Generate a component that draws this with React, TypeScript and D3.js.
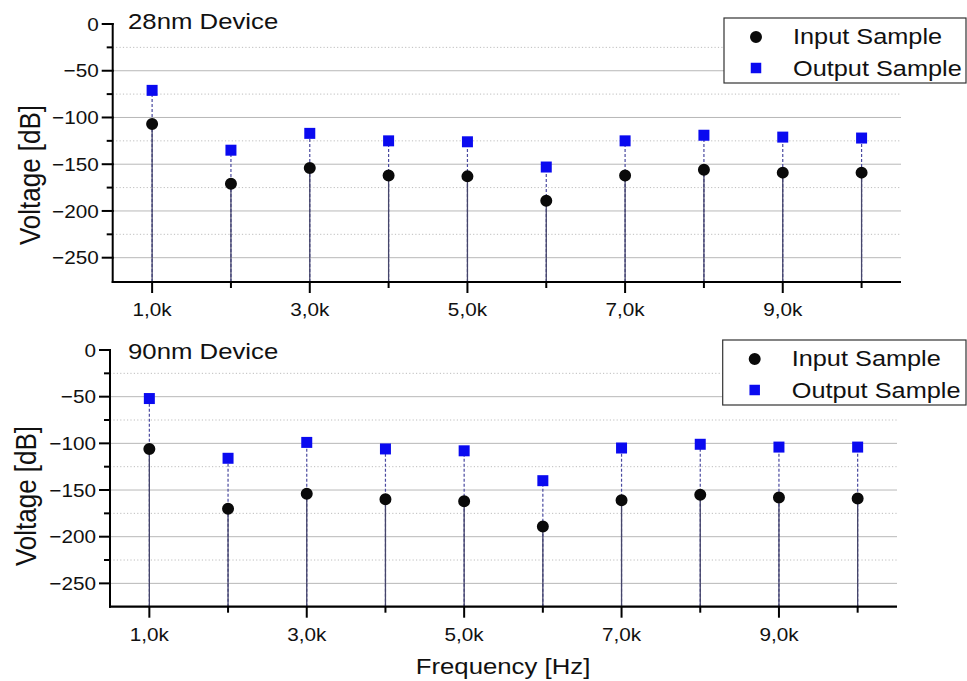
import React from "react";
import * as d3 from "d3";

// Frequencies of the harmonic samples, in kHz
const freqKHz = [1, 2, 3, 4, 5, 6, 7, 8, 9, 10];
const xTickLabels = ["1,0k", "", "3,0k", "", "5,0k", "", "7,0k", "", "9,0k", ""];

// 28nm device: voltage per harmonic [dB]
const input28 = [-107, -171, -154, -162, -163, -189, -162, -156, -159, -159];
const output28 = [-71, -135, -117, -125, -126, -153, -125, -119, -121, -122];

// 90nm device: voltage per harmonic [dB]
const input90 = [-106, -170, -154, -160, -162, -189, -161, -155, -158, -159];
const output90 = [-52, -116, -99, -106, -108, -140, -105, -101, -104, -104];

const majorY = [0, -50, -100, -150, -200, -250];
const minorY = [-25, -75, -125, -175, -225];

const titles = ["28nm Device", "90nm Device"];
const legendLabels = ["Input Sample", "Output Sample"];
const yTitle = "Voltage [dB]";
const xTitle = "Frequency [Hz]";

const W = 967;
const H = 681;
const FONT = "'Liberation Sans', Arial, Helvetica, sans-serif";
const SX = 1.12;
const BLUE = "#0a0af0";

type Layout = {
  left: number;
  right: number;
  top: number;
  bottom: number;
  yMin: number;
  titleX: number;
  titleY: number;
  yLabelX: number;
  yLabelY: number;
  legendLeft: number;
  legendTop: number;
};

const layouts: Layout[] = [
  { left: 112.7, right: 901, top: 24, bottom: 282, yMin: -276, titleX: 128, titleY: 28.5, yLabelX: 39.5, yLabelY: 175, legendLeft: 724, legendTop: 18 },
  { left: 110, right: 897, top: 350, bottom: 606.7, yMin: -275, titleX: 128, titleY: 358.5, yLabelX: 35.5, yLabelY: 496, legendLeft: 722.7, legendTop: 340 },
];

function Txt({ x, y, size, anchor = "start", children, sx = SX }: any) {
  return (
    <text
      transform={`translate(${x},${y}) scale(${sx},1)`}
      fontSize={size}
      fontFamily={FONT}
      textAnchor={anchor}
      fill="#111"
    >
      {children}
    </text>
  );
}

function Panel({ lay, title, input, output }: { lay: Layout; title: string; input: number[]; output: number[] }) {
  const x = d3.scaleLinear().domain([0.5, 10.5]).range([lay.left, lay.right]);
  const y = d3.scaleLinear().domain([lay.yMin, 0]).range([lay.bottom, lay.top]);
  const fmt = d3.format("d");
  const circle = d3.symbol(d3.symbolCircle, 113)();
  const square = d3.symbol(d3.symbolSquare, 121)();
  return (
    <g>
      {/* grid */}
      {majorY.filter((v) => v !== 0).map((v) => (
        <line key={"gM" + v} x1={lay.left} x2={lay.right} y1={y(v)} y2={y(v)} stroke="#b8b8b8" strokeWidth={1} />
      ))}
      {minorY.map((v) => (
        <line key={"gm" + v} x1={lay.left} x2={lay.right} y1={y(v)} y2={y(v)} stroke="#bdbdbd" strokeWidth={1} strokeDasharray="1.2 2.2" />
      ))}

      {/* stems */}
      {freqKHz.map((f, i) => (
        <line key={"so" + f} x1={x(f)} x2={x(f)} y1={y(lay.yMin)} y2={y(output[i])} stroke="#4a4aa0" strokeWidth={1.2} strokeDasharray="3 2" />
      ))}
      {freqKHz.map((f, i) => (
        <line key={"si" + f} x1={x(f)} x2={x(f)} y1={y(lay.yMin)} y2={y(input[i])} stroke="#45456a" strokeWidth={1.3} />
      ))}

      {/* markers */}
      {freqKHz.map((f, i) => (
        <path key={"mo" + f} d={square!} transform={`translate(${x(f)},${y(output[i])})`} fill={BLUE} />
      ))}
      {freqKHz.map((f, i) => (
        <path key={"mi" + f} d={circle!} transform={`translate(${x(f)},${y(input[i])})`} fill="#0a0a0a" />
      ))}

      {/* y axis */}
      <line x1={lay.left} x2={lay.left} y1={y(0) - 1} y2={y(lay.yMin) + 1} stroke="#000" strokeWidth={2} />
      {majorY.map((v) => (
        <g key={"yt" + v}>
          <line x1={lay.left - 11} x2={lay.left + 1} y1={y(v)} y2={y(v)} stroke="#000" strokeWidth={2} />
          <Txt x={lay.left - 14} y={y(v) + 6.6} size={18.5} anchor="end">
            {fmt(v)}
          </Txt>
        </g>
      ))}
      {minorY.map((v) => (
        <line key={"ym" + v} x1={lay.left - 6} x2={lay.left} y1={y(v)} y2={y(v)} stroke="#000" strokeWidth={2} />
      ))}

      {/* x axis */}
      <line x1={lay.left - 1} x2={lay.right} y1={y(lay.yMin)} y2={y(lay.yMin)} stroke="#000" strokeWidth={2.2} />
      {freqKHz.map((f, i) => (
        <g key={"xt" + f}>
          <line x1={x(f)} x2={x(f)} y1={y(lay.yMin)} y2={y(lay.yMin) + (xTickLabels[i] ? 11 : 6)} stroke="#000" strokeWidth={2} />
          {xTickLabels[i] && (
            <Txt x={x(f)} y={y(lay.yMin) + 34} size={18.5} anchor="middle">
              {xTickLabels[i]}
            </Txt>
          )}
        </g>
      ))}

      {/* title */}
      <Txt x={lay.titleX} y={lay.titleY} size={23}>
        {title}
      </Txt>

      {/* y axis title */}
      <text
        transform={`translate(${lay.yLabelX},${lay.yLabelY}) scale(${SX},1) rotate(-90)`}
        fontSize={26}
        fontFamily={FONT}
        textAnchor="middle"
        fill="#111"
      >
        {yTitle}
      </text>

      {/* legend */}
      <rect x={lay.legendLeft} y={lay.legendTop} width={W - 1 - lay.legendLeft} height={65} fill="#fff" stroke="#333" strokeWidth={1.2} />
      <path d={circle!} transform={`translate(${lay.legendLeft + 32},${lay.legendTop + 19})`} fill="#0a0a0a" />
      <path d={d3.symbol(d3.symbolSquare, 110)()!} transform={`translate(${lay.legendLeft + 32},${lay.legendTop + 50})`} fill={BLUE} />
      <Txt x={lay.legendLeft + 69} y={lay.legendTop + 26} size={22.6}>
        {legendLabels[0]}
      </Txt>
      <Txt x={lay.legendLeft + 69} y={lay.legendTop + 58} size={22.6}>
        {legendLabels[1]}
      </Txt>
    </g>
  );
}

export default function App() {
  return (
    <svg
      width={W}
      height={H}
      viewBox={`0 0 ${W} ${H}`}
      style={{ position: "absolute", left: 0, top: 0, background: "#fff" }}
    >
      <rect x={0} y={0} width={W} height={H} fill="#fff" />
      <Panel lay={layouts[0]} title={titles[0]} input={input28} output={output28} />
      <Panel lay={layouts[1]} title={titles[1]} input={input90} output={output90} />
      <Txt x={503} y={674} size={23} anchor="middle">
        {xTitle}
      </Txt>
    </svg>
  );
}
